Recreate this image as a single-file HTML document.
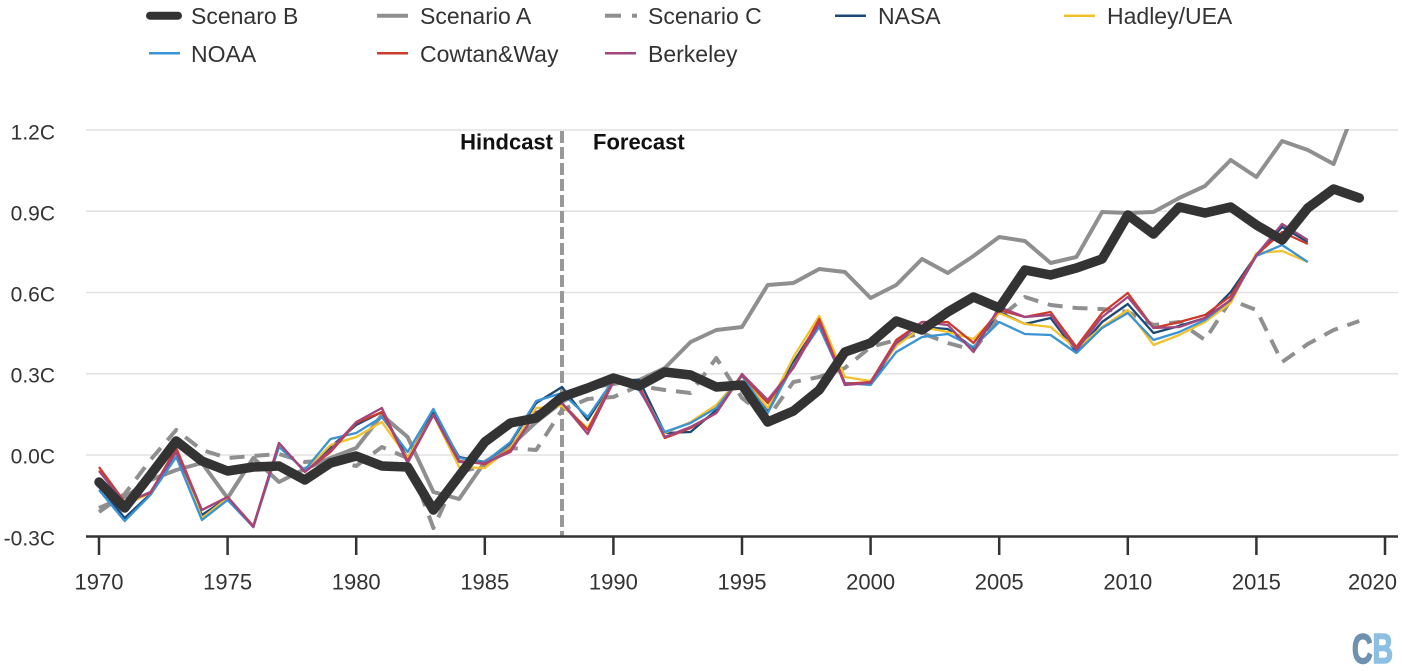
<!DOCTYPE html>
<html><head><meta charset="utf-8"><style>
html,body{margin:0;padding:0;background:#fff;}
svg{display:block;}
text{font-family:"Liberation Sans",sans-serif;}
</style></head><body>
<svg width="1402" height="671" viewBox="0 0 1402 671" xmlns="http://www.w3.org/2000/svg">
<defs><clipPath id="pc"><rect x="80" y="129" width="1322" height="420"/></clipPath></defs>
<rect width="1402" height="671" fill="#fff"/>
<!-- legend -->
<g stroke-linecap="butt">
<line x1="150" y1="15.7" x2="178" y2="15.7" stroke="#333" stroke-width="8" stroke-linecap="round"/>
<line x1="377" y1="15.7" x2="408" y2="15.7" stroke="#8f8f8f" stroke-width="4"/>
<line x1="605" y1="15.7" x2="621" y2="15.7" stroke="#8f8f8f" stroke-width="4"/>
<line x1="632" y1="15.7" x2="637" y2="15.7" stroke="#8f8f8f" stroke-width="4"/>
<line x1="835" y1="15.7" x2="866" y2="15.7" stroke="#1c4a78" stroke-width="2.5"/>
<line x1="1064" y1="15.7" x2="1095" y2="15.7" stroke="#f2c12e" stroke-width="2.5"/>
<line x1="149" y1="53.3" x2="180" y2="53.3" stroke="#3a93d4" stroke-width="2.5"/>
<line x1="377" y1="53.3" x2="408" y2="53.3" stroke="#cc3b2b" stroke-width="2.5"/>
<line x1="605" y1="53.3" x2="636" y2="53.3" stroke="#a1467e" stroke-width="2.5"/>
</g>
<g font-size="23" fill="#333">
<text x="191" y="24">Scenaro B</text>
<text x="420" y="24">Scenario A</text>
<text x="648" y="24">Scenario C</text>
<text x="878" y="24">NASA</text>
<text x="1107" y="24">Hadley/UEA</text>
<text x="191" y="62">NOAA</text>
<text x="420" y="62">Cowtan&amp;Way</text>
<text x="648" y="62">Berkeley</text>
</g>
<!-- grid -->
<g stroke="#e2e2e2" stroke-width="1.6">
<line x1="86" y1="130" x2="1398" y2="130"/>
<line x1="86" y1="211.2" x2="1398" y2="211.2"/>
<line x1="86" y1="292.5" x2="1398" y2="292.5"/>
<line x1="86" y1="373.7" x2="1398" y2="373.7"/>
<line x1="86" y1="455" x2="1398" y2="455"/>
</g>
<g font-size="21" fill="#333" text-anchor="end">
<text x="55" y="139.5">1.2C</text>
<text x="55" y="220.5">0.9C</text>
<text x="55" y="301.5">0.6C</text>
<text x="55" y="382.5">0.3C</text>
<text x="55" y="463.5">0.0C</text>
<text x="55" y="545.5">-0.3C</text>
</g>
<!-- hindcast line -->
<line x1="562" y1="131" x2="562" y2="536" stroke="#999" stroke-width="4" stroke-dasharray="12 4"/>
<text x="553" y="149.5" font-size="22" font-weight="bold" fill="#111" text-anchor="end">Hindcast</text>
<text x="593" y="149.5" font-size="22" font-weight="bold" fill="#111">Forecast</text>
<g clip-path="url(#pc)" fill="none" stroke-linejoin="round">
<!-- Scenario C -->
<polyline stroke="#8f8f8f" stroke-width="4" stroke-dasharray="15 10" points="99,512 124.7,494 150.4,460 176.2,430 201.9,450 227.6,458 253.3,456 279,454 304.8,462 330.5,460 356.2,466 381.9,447 407.6,458 433.4,528 459.1,472 484.8,466 510.5,448 536.2,450 562,410 587.7,399 613.4,397 639.1,386 664.8,390 690.6,393 716.3,358 742,398 767.7,418 793.4,382 819.2,377 844.9,368 870.6,347 896.3,340 922,333 947.8,343 973.5,350 999.2,318 1024.9,297 1050.6,305 1076.4,308 1102.1,309 1127.8,312 1153.5,325 1179.2,322 1205,340 1230.7,300 1256.4,310 1282.1,362 1307.8,344 1333.6,330 1359.3,321"/>
<!-- Scenario A -->
<polyline stroke="#8f8f8f" stroke-width="4" points="99,508 124.7,497 150.4,480 176.2,470 201.9,463 227.6,498 253.3,458 279,482 304.8,469 330.5,458 356.2,448 381.9,415 407.6,437 433.4,492 459.1,499 484.8,462 510.5,446 536.2,422 562,402 587.7,388 613.4,384 639.1,380 664.8,368 690.6,342 716.3,330 742,327 767.7,285 793.4,283 819.2,269 844.9,272 870.6,298 896.3,285 922,259 947.8,273 973.5,256 999.2,237 1024.9,241 1050.6,263 1076.4,257 1102.1,212 1127.8,213 1153.5,212 1179.2,198 1205,186 1230.7,160 1256.4,177 1282.1,141 1307.8,150 1333.6,164 1359.3,97"/>
<!-- NASA -->
<polyline stroke="#1c4a78" stroke-width="2.3" points="99,486 124.7,518 150.4,494 176.2,452 201.9,515 227.6,498 253.3,527 279,445 304.8,471 330.5,447 356.2,425 381.9,412 407.6,458 433.4,413 459.1,457 484.8,462 510.5,443 536.2,403 562,387 587.7,420 613.4,380 639.1,380 664.8,433 690.6,432 716.3,410 742,375 767.7,410 793.4,362 819.2,322 844.9,383 870.6,384 896.3,345 922,327 947.8,329 973.5,348 999.2,312 1024.9,324 1050.6,318 1076.4,352 1102.1,322 1127.8,304 1153.5,333 1179.2,326 1205,318 1230.7,292 1256.4,255 1282.1,227 1307.8,242"/>
<!-- Hadley -->
<polyline stroke="#f2c12e" stroke-width="2.3" points="99,470 124.7,505 150.4,493 176.2,449 201.9,518 227.6,498 253.3,526 279,444 304.8,471 330.5,445 356.2,437 381.9,422 407.6,458 433.4,415 459.1,467 484.8,468 510.5,448 536.2,408 562,406 587.7,428 613.4,381 639.1,388 664.8,433 690.6,422 716.3,405 742,375 767.7,408 793.4,357 819.2,316 844.9,377 870.6,381 896.3,346 922,327 947.8,332 973.5,339 999.2,313 1024.9,324 1050.6,327 1076.4,349 1102.1,327 1127.8,310 1153.5,345 1179.2,335 1205,322 1230.7,303 1256.4,253 1282.1,251 1307.8,262"/>
<!-- NOAA -->
<polyline stroke="#3a93d4" stroke-width="2.3" points="99,490 124.7,521 150.4,495 176.2,457 201.9,520 227.6,500 253.3,527 279,447 304.8,470 330.5,439 356.2,433 381.9,417 407.6,452 433.4,409 459.1,458 484.8,462 510.5,442 536.2,401 562,393 587.7,417 613.4,380 639.1,390 664.8,432 690.6,423 716.3,408 742,376 767.7,413 793.4,365 819.2,327 844.9,383 870.6,385 896.3,352 922,337 947.8,334 973.5,347 999.2,322 1024.9,334 1050.6,335 1076.4,353 1102.1,328 1127.8,313 1153.5,340 1179.2,332 1205,320 1230.7,300 1256.4,256 1282.1,245 1307.8,262"/>
<!-- Cowtan&Way -->
<polyline stroke="#cc3b2b" stroke-width="2.3" points="99,467 124.7,502 150.4,493 176.2,448 201.9,510 227.6,497 253.3,526 279,443 304.8,472 330.5,452 356.2,423 381.9,412 407.6,461 433.4,415 459.1,461 484.8,464 510.5,450 536.2,413 562,403 587.7,430 613.4,381 639.1,386 664.8,438 690.6,428 716.3,413 742,375 767.7,403 793.4,367 819.2,319 844.9,384 870.6,382 896.3,340 922,322 947.8,322 973.5,343 999.2,310 1024.9,317 1050.6,312 1076.4,347 1102.1,313 1127.8,293 1153.5,328 1179.2,322 1205,315 1230.7,296 1256.4,255 1282.1,232 1307.8,244"/>
<!-- Berkeley -->
<polyline stroke="#a1467e" stroke-width="2.3" points="99,471 124.7,503 150.4,492 176.2,452 201.9,510 227.6,497 253.3,527 279,443 304.8,472 330.5,450 356.2,422 381.9,408 407.6,463 433.4,415 459.1,462 484.8,463 510.5,452 536.2,412 562,403 587.7,434 613.4,382 639.1,388 664.8,437 690.6,427 716.3,413 742,374 767.7,400 793.4,368 819.2,323 844.9,385 870.6,383 896.3,343 922,322 947.8,325 973.5,352 999.2,307 1024.9,317 1050.6,315 1076.4,350 1102.1,317 1127.8,297 1153.5,328 1179.2,327 1205,318 1230.7,300 1256.4,255 1282.1,224 1307.8,240"/>
<!-- Scenario B -->
<polyline stroke="#333" stroke-width="9.5" stroke-linecap="round" points="99,482 124.7,508 150.4,475 176.2,441 201.9,461 227.6,471 253.3,467 279,466 304.8,480 330.5,463 356.2,456 381.9,466 407.6,467 433.4,510 459.1,476 484.8,442 510.5,423 536.2,418 562,397 587.7,388 613.4,378 639.1,386 664.8,372 690.6,375 716.3,387 742,385 767.7,422 793.4,411 819.2,390 844.9,352 870.6,343 896.3,321 922,330 947.8,312 973.5,297 999.2,308 1024.9,270 1050.6,275 1076.4,268 1102.1,259 1127.8,215 1153.5,234 1179.2,207 1205,213 1230.7,207 1256.4,225 1282.1,240 1307.8,208 1333.6,189 1359.3,198"/>
</g>
<!-- x axis -->
<line x1="86" y1="536.5" x2="1398" y2="536.5" stroke="#333" stroke-width="2.5"/>
<g stroke="#333" stroke-width="2.5">
<line x1="99" y1="536" x2="99" y2="555"/>
<line x1="227.6" y1="536" x2="227.6" y2="555"/>
<line x1="356.2" y1="536" x2="356.2" y2="555"/>
<line x1="484.8" y1="536" x2="484.8" y2="555"/>
<line x1="613.4" y1="536" x2="613.4" y2="555"/>
<line x1="742" y1="536" x2="742" y2="555"/>
<line x1="870.6" y1="536" x2="870.6" y2="555"/>
<line x1="999.2" y1="536" x2="999.2" y2="555"/>
<line x1="1127.8" y1="536" x2="1127.8" y2="555"/>
<line x1="1256.4" y1="536" x2="1256.4" y2="555"/>
<line x1="1385" y1="536" x2="1385" y2="555"/>
</g>
<g font-size="22" fill="#333" text-anchor="middle">
<text x="99" y="589.5">1970</text>
<text x="227.6" y="589.5">1975</text>
<text x="356.2" y="589.5">1980</text>
<text x="484.8" y="589.5">1985</text>
<text x="613.4" y="589.5">1990</text>
<text x="742" y="589.5">1995</text>
<text x="870.6" y="589.5">2000</text>
<text x="999.2" y="589.5">2005</text>
<text x="1127.8" y="589.5">2010</text>
<text x="1256.4" y="589.5">2015</text>
<text x="1397" y="589.5" text-anchor="end">2020</text>
</g>
<!-- CB logo -->
<text x="1352" y="663" font-size="42" font-weight="bold" stroke-width="1.6" textLength="41" lengthAdjust="spacingAndGlyphs"><tspan fill="#6f91b0" stroke="#6f91b0">C</tspan><tspan fill="#8dbfe3" stroke="#8dbfe3">B</tspan></text>
</svg>
</body></html>
